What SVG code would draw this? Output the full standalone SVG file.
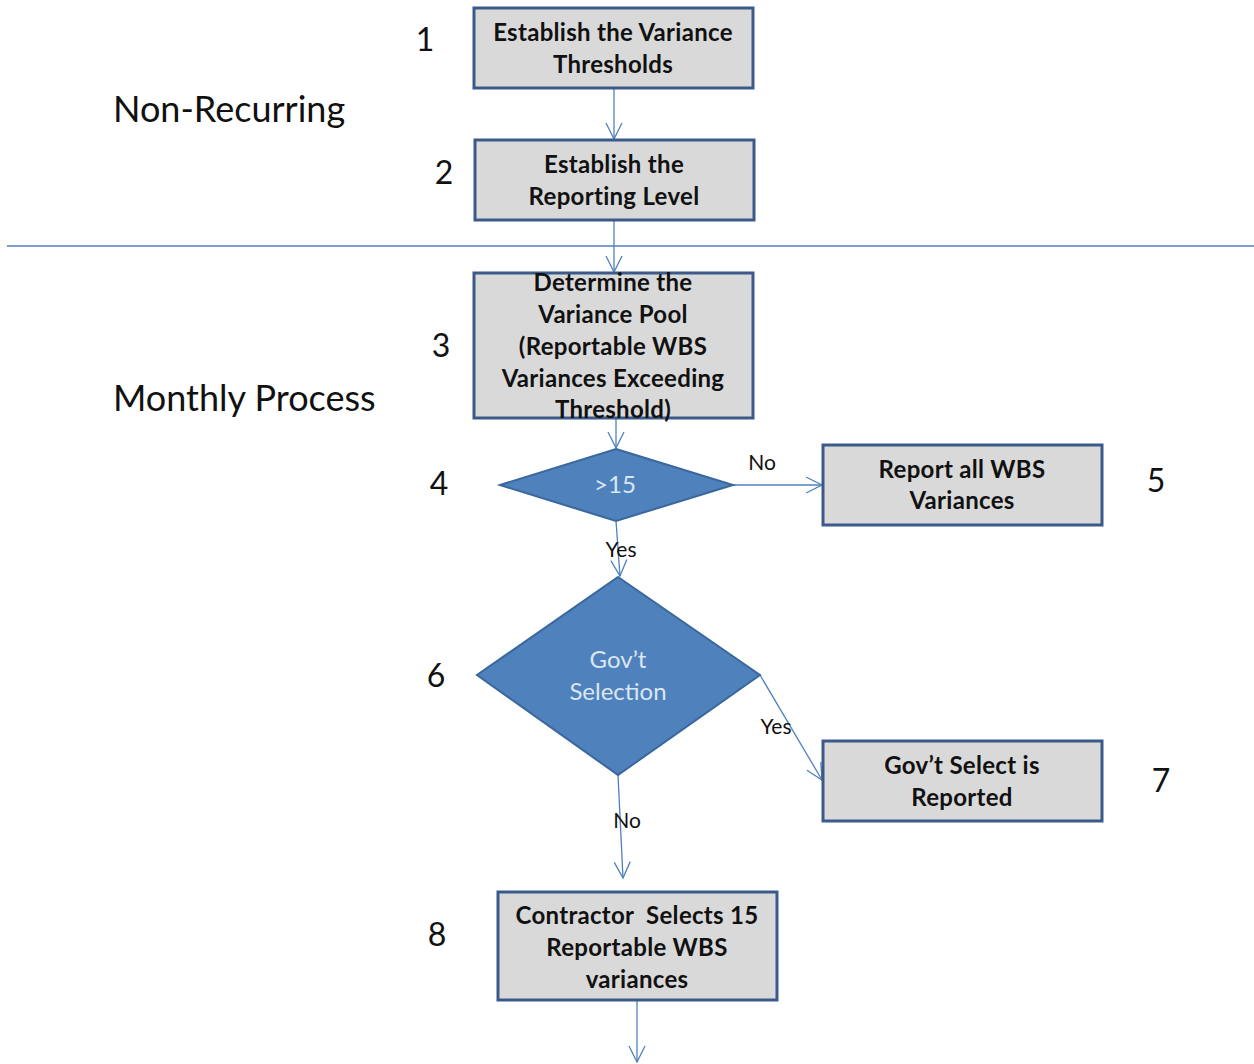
<svg xmlns="http://www.w3.org/2000/svg" width="1254" height="1064" viewBox="0 0 1254 1064">
<defs>
<style>
.box{fill:#D9D9D9;stroke:#3B5A8A;stroke-width:3}
.dia{fill:#4F81BD;stroke:#3A679C;stroke-width:2}
.bt{font-family:Lato,"Open Sans","Liberation Sans",sans-serif;font-weight:bold;font-size:24px;letter-spacing:0.3px;fill:#111;text-anchor:middle}
.dt{font-family:Lato,"Open Sans","Liberation Sans",sans-serif;font-size:24px;fill:#DCE6F2;text-anchor:middle}
.num{font-family:Lato,"Open Sans","Liberation Sans",sans-serif;font-size:32px;fill:#111;text-anchor:middle}
.sec{font-family:Lato,"Open Sans","Liberation Sans",sans-serif;font-size:36px;fill:#111}
.lbl{font-family:Lato,"Open Sans","Liberation Sans",sans-serif;font-size:21px;fill:#111;text-anchor:middle}
.con{stroke:#4F81BD;stroke-width:1.3;fill:none}
</style>
<marker id="arr" viewBox="0 0 20 20" refX="18" refY="10" markerWidth="20" markerHeight="20" markerUnits="userSpaceOnUse" orient="auto">
<path d="M2,2 L18,10 L2,18" fill="none" stroke="#4F81BD" stroke-width="1.3"/>
</marker>
</defs>
<rect width="1254" height="1064" fill="#FFFFFF"/>
<line x1="7" y1="246" x2="1254" y2="246" stroke="#4F81BD" stroke-width="1.3"/>
<text class="sec" x="113" y="122">Non-Recurring</text>
<text class="sec" x="113" y="411">Monthly Process</text>
<g id="connectors">
<line class="con" x1="614" y1="88" x2="614" y2="139" marker-end="url(#arr)"/>
<line class="con" x1="614" y1="220" x2="614" y2="272" marker-end="url(#arr)"/>
<line class="con" x1="616" y1="418" x2="616" y2="448" marker-end="url(#arr)"/>
<line class="con" x1="733" y1="485" x2="822" y2="485" marker-end="url(#arr)"/>
<line class="con" x1="616" y1="521" x2="620" y2="576" marker-end="url(#arr)"/>
<line class="con" x1="760" y1="675" x2="822" y2="780" marker-end="url(#arr)"/>
<line class="con" x1="618" y1="775" x2="623" y2="878" marker-end="url(#arr)"/>
<line class="con" x1="637" y1="1000" x2="637" y2="1062" marker-end="url(#arr)"/>
<text class="lbl" x="762" y="470">No</text>
<text class="lbl" x="621" y="557">Yes</text>
<text class="lbl" x="776" y="734">Yes</text>
<text class="lbl" x="627" y="828">No</text>
</g>
<g id="n1">
<rect class="box" x="474" y="8" width="279" height="80"/>
<text class="bt" x="613" y="41">Establish the Variance</text>
<text class="bt" x="613" y="73">Thresholds</text>
<text class="num" x="425" y="51">1</text>
</g>
<g id="n2">
<rect class="box" x="475" y="140" width="279" height="80"/>
<text class="bt" x="614" y="173">Establish the</text>
<text class="bt" x="614" y="205">Reporting Level</text>
<text class="num" x="444" y="184">2</text>
</g>
<g id="n3">
<rect class="box" x="474" y="273" width="279" height="145"/>
<text class="bt" x="613" y="291">Determine the</text>
<text class="bt" x="613" y="323">Variance Pool</text>
<text class="bt" x="613" y="355">(Reportable WBS</text>
<text class="bt" x="613" y="387">Variances Exceeding</text>
<text class="bt" x="613" y="418">Threshold)</text>
<text class="num" x="441" y="357">3</text>
</g>
<g id="n4">
<polygon class="dia" points="616,449 733,485 616,521 500,485"/>
<text class="dt" x="615" y="493">&gt;15</text>
<text class="num" x="439" y="495">4</text>
</g>
<g id="n5">
<rect class="box" x="823" y="445" width="279" height="80"/>
<text class="bt" x="962" y="478">Report all WBS</text>
<text class="bt" x="962" y="509">Variances</text>
<text class="num" x="1156" y="492">5</text>
</g>
<g id="n6">
<polygon class="dia" points="618,577 760,675 618,775 477,675"/>
<text class="dt" x="618" y="668">Gov’t</text>
<text class="dt" x="618" y="700">Selection</text>
<text class="num" x="436" y="687">6</text>
</g>
<g id="n7">
<rect class="box" x="823" y="741" width="279" height="80"/>
<text class="bt" x="962" y="774">Gov’t Select is</text>
<text class="bt" x="962" y="806">Reported</text>
<text class="num" x="1161" y="792">7</text>
</g>
<g id="n8">
<rect class="box" x="498" y="892" width="279" height="108"/>
<text class="bt" x="637" y="924">Contractor&#160; Selects 15</text>
<text class="bt" x="637" y="956">Reportable WBS</text>
<text class="bt" x="637" y="988">variances</text>
<text class="num" x="437" y="946">8</text>
</g>
</svg>
